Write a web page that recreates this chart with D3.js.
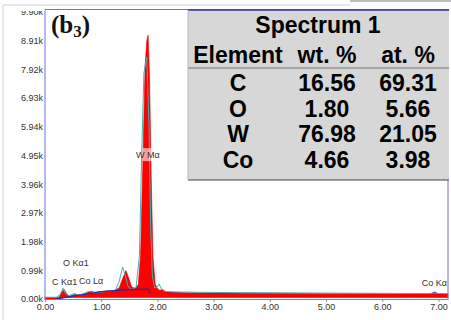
<!DOCTYPE html>
<html>
<head>
<meta charset="utf-8">
<script src="https://cdn.jsdelivr.net/npm/d3@7"></script>
<style>
  body { margin: 0; background: #fff; }
  svg { display: block; }
  .tick text { font-family: "Liberation Sans", Arial, sans-serif; font-size: 9px; fill: #333; }
</style>
</head>
<body>
<script>
// measured spectrum (keV, counts)
const redKeV = [0, 0.2, 0.25, 0.3, 0.34, 0.38, 0.42, 0.48, 0.53, 0.58, 0.65, 0.72, 0.78, 0.83, 0.88, 0.95, 1.05, 1.15, 1.25, 1.32, 1.38, 1.44, 1.49, 1.54, 1.6, 1.66, 1.7, 1.74, 1.78, 1.81, 1.835, 1.86, 1.89, 1.92, 1.96, 2.0, 2.04, 2.09, 2.14, 2.2, 2.3, 2.5, 2.8, 3.2, 3.6, 4.0, 4.5, 5.0, 5.5, 6.0, 6.5, 6.85, 6.93, 7.0, 7.17];
const redCounts = [0, 0, 60, 250, 330, 200, 110, 120, 190, 130, 160, 200, 250, 270, 230, 240, 260, 280, 300, 390, 700, 980, 720, 420, 360, 500, 1500, 4600, 8000, 8900, 9100, 7600, 4200, 1500, 520, 360, 300, 330, 250, 230, 220, 215, 210, 205, 200, 195, 190, 185, 185, 180, 175, 175, 180, 170, 170];

const tealKeV = [0, 0.2, 0.27, 0.32, 0.36, 0.42, 0.5, 0.55, 0.65, 0.75, 0.8, 0.86, 0.95, 1.1, 1.25, 1.32, 1.38, 1.43, 1.48, 1.55, 1.62, 1.68, 1.72, 1.76, 1.81, 1.85, 1.88, 1.91, 1.95, 2.0, 2.03, 2.07, 2.15, 2.3, 2.6, 3.0, 3.5, 4.0, 4.5, 5.0, 5.5, 6.0, 6.5, 6.85, 6.93, 7.0, 7.17];
const tealCounts = [60, 60, 150, 370, 200, 110, 170, 130, 150, 240, 260, 220, 230, 260, 300, 600, 1100, 800, 420, 330, 400, 1500, 5000, 7800, 8350, 6000, 2500, 800, 380, 420, 520, 350, 260, 245, 235, 225, 220, 215, 210, 205, 200, 195, 190, 190, 210, 190, 185];

// background fit
const bgKeV = [0.2, 0.3, 0.5, 0.8, 1.0, 1.3, 1.6, 1.85, 1.87, 2.0, 2.3, 2.6, 3.0, 4.0, 5.0, 6.0, 6.8, 6.87, 6.93, 6.99, 7.06, 7.17];
const bgCounts = [0, 40, 100, 190, 250, 300, 330, 345, 190, 200, 220, 160, 140, 130, 120, 110, 100, 170, 230, 170, 100, 95];

const yTicks = [0, 990, 1980, 2970, 3960, 4950, 5940, 6930, 7920, 8910, 9900];
const yTickLabels = ["0.00k", "0.99k", "1.98k", "2.97k", "3.96k", "4.95k", "5.94k", "6.93k", "7.92k", "8.91k", "9.90k"];
const xTicks = [0, 1, 2, 3, 4, 5, 6, 7];
const xTickLabels = ["0.00", "1.00", "2.00", "3.00", "4.00", "5.00", "6.00", "7.00"];

// peak markers: label, keV, count level of the label baseline
const peakNames = ["C", "Kα1", "O Kα1", "Co Lα", "W Mα", "Co Kα"];
const peakKeV = [0.125, 0.285, 0.32, 0.605, 1.83, 7.15];
const peakCounts = [480, 470, 1140, 520, 4860, 450];

const tableTitle = "Spectrum 1";
const tableHeader = ["Element", "wt. %", "at. %"];
const elements = ["C", "O", "W", "Co"];
const wtPct = ["16.56", "1.80", "76.98", "4.66"];
const atPct = ["69.31", "5.66", "21.05", "3.98"];

const W = 451, H = 320;
const x = d3.scaleLinear().domain([0, 7.17]).range([45, 448]);
const y = d3.scaleLinear().domain([0, 9900]).range([299, 12]);

const svg = d3.select('body').append('svg').attr('width', W).attr('height', H);

// outer frame
svg.append('line').attr('x1', 3).attr('x2', 3).attr('y1', 5).attr('y2', H).attr('stroke', '#cfcfcf');
svg.append('line').attr('x1', 3).attr('x2', 350).attr('y1', 5).attr('y2', 5).attr('stroke', '#cfcfcf');
svg.append('rect').attr('x', 350).attr('y', 0).attr('width', 101).attr('height', 2).attr('fill', '#bdbdbd');

const red = redKeV.map((k, i) => [k, redCounts[i]]);
const teal = tealKeV.map((k, i) => [k, tealCounts[i]]);
const bg = bgKeV.map((k, i) => [k, bgCounts[i]]);

const plot = svg.append('g');
plot.append('path')
  .datum(bg)
  .attr('fill', 'none')
  .attr('stroke', '#2a2ab0')
  .attr('stroke-width', 1.3)
  .attr('d', d3.line().x(d => x(d[0])).y(d => y(d[1])));
plot.append('path')
  .datum(red)
  .attr('fill', '#ff0000')
  .attr('stroke', '#e00000')
  .attr('stroke-width', 0.6)
  .attr('d', d3.area().x(d => x(d[0])).y0(y(0) - 1.5).y1(d => y(d[1])));
plot.append('path')
  .datum(teal)
  .attr('fill', 'none')
  .attr('stroke', '#3fb3b3')
  .attr('stroke-width', 1)
  .attr('d', d3.line().x(d => x(d[0])).y(d => y(d[1])));
plot.append('path')
  .datum(bg.filter(d => d[0] < 1.9))
  .attr('fill', 'none')
  .attr('stroke', '#2a2ab0')
  .attr('stroke-width', 1.2)
  .attr('d', d3.line().x(d => x(d[0])).y(d => y(d[1])));

// axes
const yAxis = d3.axisLeft(y).tickValues(yTicks).tickFormat((d, i) => yTickLabels[i]).tickSize(0).tickPadding(2);
svg.append('g').attr('transform', 'translate(45,0)').call(yAxis).call(g => g.select('.domain').remove());
const xAxis = d3.axisBottom(x).tickValues(xTicks).tickFormat((d, i) => xTickLabels[i]).tickSize(2).tickPadding(2);
svg.append('g').attr('transform', 'translate(0,300)').call(xAxis)
  .call(g => g.select('.domain').remove())
  .call(g => g.selectAll('.tick line').attr('stroke', '#8888dd'));

// plot frame
svg.append('line').attr('x1', 45).attr('x2', 45).attr('y1', 9).attr('y2', 300).attr('stroke', '#6f6fe8');
svg.append('line').attr('x1', 45).attr('x2', 449).attr('y1', 9.5).attr('y2', 9.5).attr('stroke', '#6f6fe8');
svg.append('line').attr('x1', 448).attr('x2', 448).attr('y1', 9).attr('y2', 300).attr('stroke', '#6f6fe8');
svg.append('line').attr('x1', 45).attr('x2', 448).attr('y1', 299.5).attr('y2', 299.5).attr('stroke', '#7b7be6').attr('stroke-width', 1.2);

// the top tick label is cut off in the original
svg.append('rect').attr('x', 5).attr('y', 6).attr('width', 39.5).attr('height', 5).attr('fill', '#fff');

// peak labels
const labelAnchor = ['start', 'start', 'start', 'start', 'middle', 'end'];
peakNames.forEach((n, i) => {
  if (n === 'W Mα') {
    svg.append('rect').attr('x', x(peakKeV[i]) - 5).attr('y', y(peakCounts[i]) - 10)
      .attr('width', 19).attr('height', 13).attr('fill', '#fff').attr('opacity', 0.6);
  }
  svg.append('text')
    .attr('x', x(peakKeV[i]))
    .attr('y', y(peakCounts[i]))
    .attr('text-anchor', labelAnchor[i])
    .attr('font-family', 'Liberation Sans, Arial, sans-serif')
    .attr('font-size', 9)
    .attr('fill', '#333')
    .text(n);
});

// title
const title = svg.append('text').attr('x', 51).attr('y', 33)
  .attr('font-family', 'Liberation Serif, Times New Roman, serif')
  .attr('font-weight', 'bold').attr('font-size', 25).attr('fill', '#111');
title.append('tspan').text('(b');
title.append('tspan').attr('font-size', 17).attr('dy', 4).text('3');
title.append('tspan').attr('dy', -4).text(')');

// table
const tb = svg.append('g');
tb.append('rect').attr('x', 188).attr('y', 10).attr('width', 261).attr('height', 170).attr('fill', '#d7d7d7');
tb.append('line').attr('x1', 188).attr('x2', 449).attr('y1', 180).attr('y2', 180).attr('stroke', '#444').attr('stroke-width', 1.2);
tb.append('line').attr('x1', 188).attr('x2', 449).attr('y1', 10).attr('y2', 10).attr('stroke', '#3333aa').attr('stroke-width', 1.5);
tb.append('line').attr('x1', 188).attr('x2', 449).attr('y1', 68).attr('y2', 68).attr('stroke', '#777').attr('stroke-width', 1);
tb.append('line').attr('x1', 188).attr('x2', 188).attr('y1', 10).attr('y2', 180).attr('stroke', '#bbb');

const colX = [238, 327, 408];
const tFont = 'Liberation Sans, Arial, sans-serif';
tb.append('text').attr('x', 318).attr('y', 33).attr('text-anchor', 'middle')
  .attr('font-family', tFont).attr('font-weight', 'bold').attr('font-size', 23).text(tableTitle);
tableHeader.forEach((h, i) => {
  tb.append('text').attr('x', colX[i]).attr('y', 63).attr('text-anchor', 'middle')
    .attr('font-family', tFont).attr('font-weight', 'bold').attr('font-size', 23).text(h);
});
elements.forEach((e, r) => {
  [e, wtPct[r], atPct[r]].forEach((v, i) => {
    tb.append('text').attr('x', colX[i]).attr('y', 91 + r * 25.7).attr('text-anchor', 'middle')
      .attr('font-family', tFont).attr('font-weight', 'bold').attr('font-size', 23).text(v);
  });
});
</script>
</body>
</html>
